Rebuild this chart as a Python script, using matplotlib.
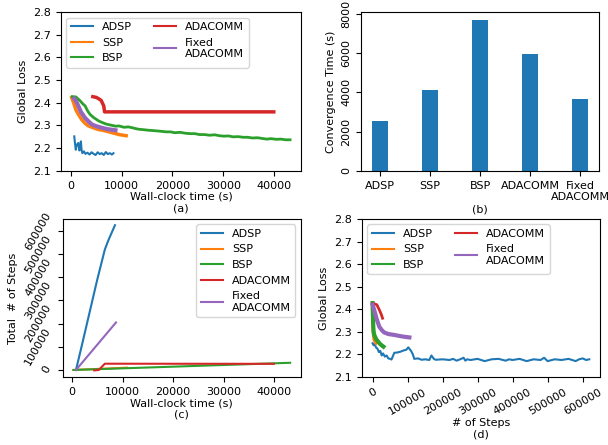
import numpy as np
import matplotlib
matplotlib.use('Agg')
import matplotlib.pyplot as plt

plt.rcParams['font.size'] = 8

methods = ['ADSP', 'SSP', 'BSP', 'ADACOMM', 'Fixed\nADACOMM']
colors = ['tab:blue', 'tab:orange', 'tab:green', 'tab:red', 'tab:purple']

# (a) loss vs wall-clock time
adsp_t = [700, 850, 1000, 1200, 1500, 1700, 1900, 2000, 2150, 2300, 2600, 2900, 3300, 3700, 4100,
          4500, 4900, 5300, 5700, 6100, 6500, 6900, 7300, 7700, 8100, 8400]
adsp_l = [2.252, 2.22, 2.193, 2.215, 2.223, 2.19, 2.21, 2.23, 2.19, 2.178, 2.186, 2.175, 2.18, 2.172,
          2.182, 2.175, 2.17, 2.182, 2.174, 2.178, 2.17, 2.183, 2.174, 2.178, 2.172, 2.178]
ssp_t = [200, 500, 1000, 1500, 2200, 2800, 3500, 4200, 4800, 5500, 6500, 7500, 8500, 9500, 10900]
ssp_l = [2.423, 2.405, 2.37, 2.349, 2.325, 2.31, 2.298, 2.292, 2.287, 2.282, 2.278, 2.272, 2.266, 2.26, 2.255]
bsp_t = [300, 1000, 1800, 2400, 2840, 3300, 3800, 4500, 5500, 6200, 7000, 7800, 8800, 9500, 10500,
         11300, 12100, 13200, 14500, 15300, 16500, 17500, 18700, 19600, 20500, 21500, 22500, 23500,
         24400, 25300, 26300, 27300, 28300, 29200, 30100, 31000, 31900, 32900, 33900, 34800, 35700,
         36700, 37600, 38500, 39400, 40400, 41300, 42200, 43100]
bsp_l = [2.427, 2.426, 2.41, 2.395, 2.386, 2.365, 2.349, 2.335, 2.32, 2.313, 2.306, 2.302, 2.297,
         2.298, 2.292, 2.294, 2.29, 2.284, 2.281, 2.279, 2.277, 2.275, 2.272, 2.272, 2.268, 2.27,
         2.266, 2.264, 2.264, 2.26, 2.26, 2.257, 2.259, 2.255, 2.253, 2.254, 2.25, 2.251, 2.248,
         2.248, 2.245, 2.246, 2.243, 2.24, 2.242, 2.239, 2.24, 2.237, 2.237]
ada_t = [4350, 5000, 5500, 6000, 6500, 6650, 8000, 10000, 15000, 20000, 25000, 30000, 35000, 39900]
ada_l = [2.427, 2.424, 2.418, 2.41, 2.386, 2.36, 2.36, 2.36, 2.36, 2.36, 2.36, 2.36, 2.36, 2.36]
fix_t = [700, 1000, 1500, 2000, 2800, 3500, 4200, 5000, 6100, 7200, 8800]
fix_l = [2.418, 2.41, 2.386, 2.36, 2.334, 2.318, 2.304, 2.297, 2.29, 2.284, 2.279]

# (b) convergence time
conv_time = [2550, 4130, 7700, 5970, 3680]

# (c) total steps vs wall-clock time
adsp_st_t = [800, 2000, 3500, 5000, 6500, 7200, 8500]
adsp_st = [0, 110000, 250000, 390000, 520000, 560000, 625000]
ssp_st_t = [300, 10900]
ssp_st = [0, 10000]
bsp_st_t = [300, 43100]
bsp_st = [0, 31000]
ada_st_t = [4400, 5300, 6500, 39900]
ada_st = [-2000, 0, 27000, 26500]
fix_st_t = [800, 8700]
fix_st = [0, 205000]

# (d) loss vs number of steps
adsp_s = [0, 3000, 6000, 10000, 14000, 18000, 22000, 26000, 30000, 35000, 40000, 45000, 50000, 54000,
          62000, 70000, 80000, 90000, 96000, 102000, 110000, 115000, 119000, 130000, 140000, 150000,
          162000, 168000, 175000, 180000, 200000, 220000, 230000, 240000, 250000, 260000, 265000,
          270000, 280000, 300000, 320000, 340000, 360000, 380000, 390000, 400000, 420000, 440000,
          460000, 480000, 490000, 500000, 520000, 540000, 560000, 580000, 590000, 600000, 610000, 619000]
adsp_sl = [2.249, 2.24, 2.245, 2.23, 2.225, 2.21, 2.215, 2.195, 2.204, 2.19, 2.195, 2.182, 2.18, 2.177,
           2.207, 2.208, 2.212, 2.218, 2.22, 2.231, 2.215, 2.2, 2.18, 2.182, 2.176, 2.178, 2.175,
           2.195, 2.18, 2.176, 2.178, 2.175, 2.18, 2.172, 2.178, 2.185, 2.172, 2.178, 2.175, 2.18,
           2.17, 2.178, 2.18, 2.172, 2.178, 2.175, 2.18, 2.17, 2.178, 2.175, 2.185, 2.17, 2.178,
           2.175, 2.18, 2.17, 2.178, 2.182, 2.175, 2.178]
ssp_s = [0, 1000, 2000, 4000, 7000, 10000]
ssp_sl = [2.423, 2.35, 2.3, 2.27, 2.256, 2.25]
bsp_s = [0, 1000, 2000, 3000, 5000, 8000, 11000, 14000, 18000, 22000, 26000, 31000]
bsp_sl = [2.427, 2.37, 2.32, 2.3, 2.285, 2.275, 2.265, 2.26, 2.252, 2.245, 2.24, 2.234]
ada_s = [0, 6000, 12000, 19000, 24000, 28500]
ada_sl = [2.425, 2.423, 2.42, 2.398, 2.38, 2.36]
fix_s = [0, 3000, 7000, 12000, 19000, 26000, 33000, 45000, 62000, 75000, 90000, 105000]
fix_sl = [2.42, 2.405, 2.383, 2.355, 2.323, 2.308, 2.297, 2.29, 2.286, 2.282, 2.278, 2.275]

loss_ticks = [2.1, 2.2, 2.3, 2.4, 2.5, 2.6, 2.7, 2.8]

fig = plt.figure(figsize=(6.08, 4.45), dpi=100)
axa = fig.add_axes([0.100, 0.616, 0.395, 0.357])
axb = fig.add_axes([0.594, 0.616, 0.391, 0.357])
axc = fig.add_axes([0.103, 0.153, 0.392, 0.355])
axd = fig.add_axes([0.595, 0.153, 0.392, 0.355])

labels = ['ADSP', 'SSP', 'BSP', 'ADACOMM', 'Fixed\nADACOMM']

# panel a
axa.plot(adsp_t, adsp_l, color=colors[0], label=labels[0])
axa.plot(ssp_t, ssp_l, color=colors[1], lw=2.5, label=labels[1])
axa.plot(bsp_t, bsp_l, color=colors[2], lw=2, label=labels[2])
axa.plot(ada_t, ada_l, color=colors[3], lw=2.5, label=labels[3])
axa.plot(fix_t, fix_l, color=colors[4], lw=3, label=labels[4])
axa.set_ylim(2.1, 2.8)
axa.set_yticks(loss_ticks)
axa.set_xlabel('Wall-clock time (s)\n(a)', labelpad=1)
axa.set_ylabel('Global Loss')
leg = axa.legend(loc='upper left', ncol=2, fontsize=8)
for h in leg.get_lines():
    h.set_linewidth(1.5)

# panel b
axb.bar(range(len(methods)), conv_time, width=0.32, color='tab:blue')
axb.set_xticks(range(len(methods)))
axb.set_xticklabels(methods, va='top')
axb.set_ylabel('Convergence Time (s)')
axb.set_xlabel('(b)', labelpad=2)
axb.set_yticks([0, 2000, 4000, 6000, 8000])
plt.setp(axb.get_yticklabels(), rotation=90, va='center')

# panel c
axc.plot(adsp_st_t, adsp_st, color=colors[0], label=labels[0])
axc.plot(ssp_st_t, ssp_st, color=colors[1], label=labels[1])
axc.plot(bsp_st_t, bsp_st, color=colors[2], label=labels[2])
axc.plot(ada_st_t, ada_st, color=colors[3], label=labels[3])
axc.plot(fix_st_t, fix_st, color=colors[4], label=labels[4])
axc.set_ylim(-30000, 652000)
axc.set_yticks([0, 100000, 200000, 300000, 400000, 500000, 600000])
plt.setp(axc.get_yticklabels(), rotation=60, va='center')
axc.set_xlabel('Wall-clock time (s)\n(c)', labelpad=1)
axc.set_ylabel('Total  # of Steps')
axc.legend(loc='upper right', fontsize=8)

# panel d
axd.plot(adsp_s, adsp_sl, color=colors[0], label=labels[0])
axd.plot(ssp_s, ssp_sl, color=colors[1], lw=2.5, label=labels[1])
axd.plot(bsp_s, bsp_sl, color=colors[2], lw=3, label=labels[2])
axd.plot(ada_s, ada_sl, color=colors[3], lw=2, label=labels[3])
axd.plot(fix_s, fix_sl, color=colors[4], lw=3, label=labels[4])
axd.set_ylim(2.1, 2.8)
axd.set_yticks(loss_ticks)
axd.set_xticks([0, 100000, 200000, 300000, 400000, 500000, 600000])
plt.setp(axd.get_xticklabels(), rotation=30, ha='center')
axd.set_xlabel('# of Steps\n(d)', labelpad=1)
axd.set_ylabel('Global Loss')
leg = axd.legend(loc='upper left', ncol=2, fontsize=8)
for h in leg.get_lines():
    h.set_linewidth(1.5)

fig.savefig('out.png', dpi=100)
